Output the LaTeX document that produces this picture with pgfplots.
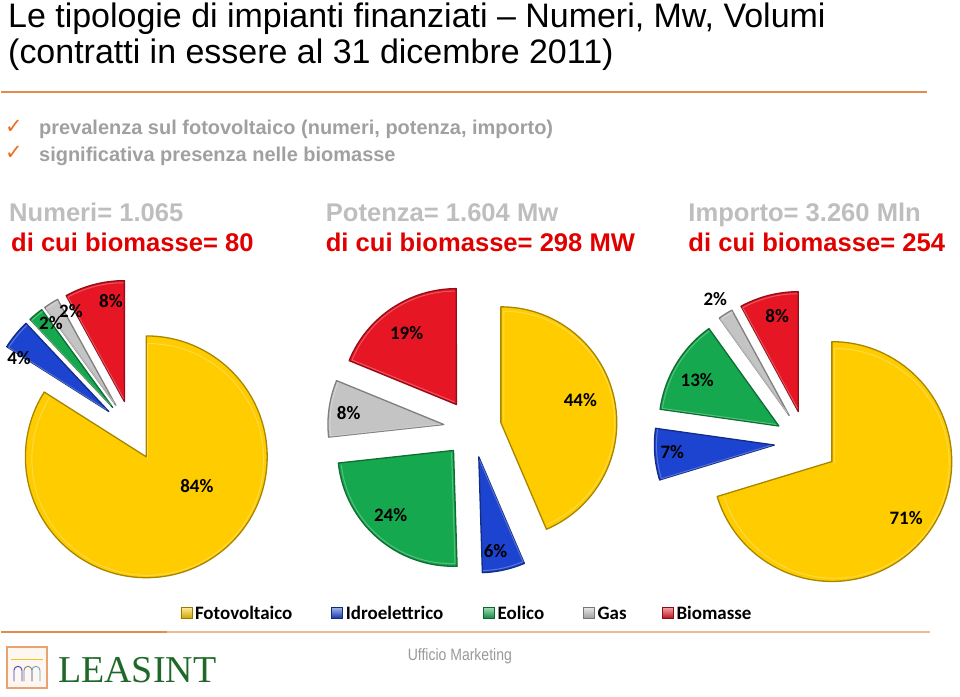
\documentclass[border=0pt]{standalone}
\usepackage{pgfplots}
\usepackage{pgfplotstable}
\pgfplotsset{compat=1.18}
\usepackage{fontspec}
\setmainfont{Liberation Sans}
\newfontfamily\narrowfont{Liberation Sans}[FakeStretch=0.85]
\newfontfamily\calfont{Carlito}
\newfontfamily\dejavu{DejaVu Sans}
\newfontfamily\seriffont{Liberation Serif}
\usetikzlibrary{calc}

\definecolor{cyl}{RGB}{255,204,0}
\definecolor{cbl}{RGB}{28,68,208}
\definecolor{cgr}{RGB}{22,168,78}
\definecolor{cgy}{RGB}{196,196,196}
\definecolor{crd}{RGB}{230,22,36}
\definecolor{corange}{RGB}{226,140,78}
\definecolor{ccheck}{RGB}{236,110,30}
\definecolor{cbullet}{RGB}{160,160,160}
\definecolor{csub}{RGB}{190,190,190}
\definecolor{csubred}{RGB}{225,0,0}
\definecolor{cgreenlogo}{RGB}{30,105,40}

% Numeri
\pgfplotstableread{
name value col
Fotovoltaico 84 cyl
Idroelettrico 4 cbl
Eolico 2 cgr
Gas 2 cgy
Biomasse 8 crd
}\pieA
% Potenza
\pgfplotstableread{
name value col
Fotovoltaico 44 cyl
Idroelettrico 6 cbl
Eolico 24 cgr
Gas 8 cgy
Biomasse 19 crd
}\pieB
% Importo
\pgfplotstableread{
name value col
Fotovoltaico 71 cyl
Idroelettrico 7 cbl
Eolico 13 cgr
Gas 2 cgy
Biomasse 8 crd
}\pieC

% #1 table, #2 cx, #3 cy (from top), #4 radius, #5 explode
\newcommand{\drawpie}[5]{%
  \pgfplotstablegetrowsof{#1}%
  \pgfmathtruncatemacro\nrows{\pgfplotsretval-1}%
  \xdef\psum{0}%
  \foreach \i in {0,...,\nrows}{%
    \pgfplotstablegetelem{\i}{value}\of{#1}%
    \pgfmathparse{\psum+\pgfplotsretval}\xdef\psum{\pgfmathresult}%
  }%
  \xdef\pcum{0}%
  \foreach \i in {0,...,\nrows}{%
    \pgfplotstablegetelem{\i}{value}\of{#1}%
    \pgfmathsetmacro\va{\pgfplotsretval/\psum*360}%
    \pgfmathsetmacro\sa{90-\pcum}%
    \pgfmathsetmacro\ea{90-\pcum-\va}%
    \pgfmathsetmacro\ma{90-\pcum-\va/2}%
    \pgfmathsetmacro\ax{#2+#5*cos(\ma)}%
    \pgfmathsetmacro\ay{697-#3+#5*sin(\ma)}%
    \pgfplotstablegetelem{\i}{col}\of{#1}%
    \edef\col{\pgfplotsretval}%
    \filldraw[fill=\col, draw=\col!65!black, line width=1.3pt, line join=round]
      (axis cs:\ax,\ay) -- ++(\sa:#4pt) arc[start angle=\sa, end angle=\ea, radius=#4pt] -- cycle;
    \pgfmathsetmacro\rr{#4-5}%
    \draw[\col!55!white, line width=1pt, line join=round, opacity=0.6]
      ($(axis cs:\ax,\ay)+(\ma:3pt)$) -- ++(\sa:\rr pt) arc[start angle=\sa, end angle=\ea, radius=\rr pt];
    \pgfmathparse{\pcum+\va}\xdef\pcum{\pgfmathresult}%
  }%
}
\newcommand{\lab}[3]{\node[font=\calfont\bfseries\fontsize{19}{19}\selectfont, text=black, inner sep=0pt] at (axis cs:#1,{697-#2}) {#3};}
\newcommand{\legitem}[3]{%
  \shade[top color=#2!40!white, bottom color=#2!80!black, draw=#2!60!black, line width=0.4pt]
    (axis cs:#1,{697-619}) rectangle (axis cs:{#1+11},{697-608});
  \node[anchor=base west, inner sep=0pt, font=\calfont\bfseries\fontsize{19}{19}\selectfont] at (axis cs:{#1+14},{697-620}) {#3};}
\newcommand{\arch}[2]{\draw[#2, line width=0.9pt] (axis cs:#1,{697-682}) -- (axis cs:#1,{697-671}) arc[start angle=180, end angle=0, radius=4pt] -- ++(0,-11pt);}

\begin{document}
\begin{tikzpicture}
\begin{axis}[x=1pt, y=1pt, xmin=0, xmax=960, ymin=0, ymax=697, hide axis, clip=false, scale only axis]
\addplot[draw=none] coordinates {(0,0) (960,697)};
\pgfplotsextra{%
  \drawpie{\pieA}{131}{431}{121}{30}
  \drawpie{\pieB}{472}{429}{116}{29}
  \drawpie{\pieC}{806}{443}{120}{32}
}
% title
\node[anchor=base west, inner sep=0pt, font=\fontsize{34}{34}\selectfont] at (axis cs:7,{697-28}) {Le tipologie di impianti finanziati -- Numeri, Mw, Volumi};
\node[anchor=base west, inner sep=0pt, font=\fontsize{34}{34}\selectfont] at (axis cs:7,{697-64}) {(contratti in essere al 31 dicembre 2011)};
\draw[corange, line width=2pt] (axis cs:0,{697-92}) -- (axis cs:927,{697-92});
% bullets
\node[anchor=base west, inner sep=0pt, text=ccheck, font=\dejavu\fontsize{21}{21}\selectfont] at (axis cs:4,{697-134}) {✓};
\node[anchor=base west, inner sep=0pt, text=ccheck, font=\dejavu\fontsize{21}{21}\selectfont] at (axis cs:4,{697-160}) {✓};
\node[anchor=base west, inner sep=0pt, text=cbullet, font=\bfseries\fontsize{20}{20}\selectfont] at (axis cs:38,{697-135}) {prevalenza sul fotovoltaico (numeri, potenza, importo)};
\node[anchor=base west, inner sep=0pt, text=cbullet, font=\bfseries\fontsize{20}{20}\selectfont] at (axis cs:38,{697-162}) {significativa presenza nelle biomasse};
% subtitles
\node[anchor=base west, inner sep=0pt, text=csub, font=\bfseries\fontsize{25.6}{26}\selectfont] at (axis cs:8,{697-222}) {Numeri= 1.065};
\node[anchor=base west, inner sep=0pt, text=csubred, font=\bfseries\fontsize{25.6}{26}\selectfont] at (axis cs:10,{697-252}) {di cui biomasse= 80};
\node[anchor=base west, inner sep=0pt, text=csub, font=\bfseries\fontsize{25.6}{26}\selectfont] at (axis cs:325,{697-222}) {Potenza= 1.604 Mw};
\node[anchor=base west, inner sep=0pt, text=csubred, font=\bfseries\fontsize{25.6}{26}\selectfont] at (axis cs:325,{697-252}) {di cui biomasse= 298 MW};
\node[anchor=base west, inner sep=0pt, text=csub, font=\bfseries\fontsize{25.6}{26}\selectfont] at (axis cs:688,{697-222}) {Importo= 3.260 Mln};
\node[anchor=base west, inner sep=0pt, text=csubred, font=\bfseries\fontsize{25.6}{26}\selectfont] at (axis cs:688,{697-252}) {di cui biomasse= 254};
% pie labels
\lab{196}{487}{84\%}
\lab{18}{358}{4\%}
\lab{50}{323}{2\%}
\lab{70}{311}{2\%}
\lab{110}{301}{8\%}
\lab{406}{333}{19\%}
\lab{348}{413}{8\%}
\lab{580}{400}{44\%}
\lab{390}{516}{24\%}
\lab{495}{552}{6\%}
\lab{715}{299}{2\%}
\lab{777}{316}{8\%}
\lab{697}{380}{13\%}
\lab{672}{453}{7\%}
\lab{906}{519}{71\%}
% legend
\legitem{180}{cyl}{Fotovoltaico}
\legitem{331}{cbl}{Idroelettrico}
\legitem{483}{cgr}{Eolico}
\legitem{583}{cgy}{Gas}
\legitem{662}{crd}{Biomasse}
% footer
\draw[corange, line width=2pt] (axis cs:0,{697-633}) -- (axis cs:166,{697-633});
\draw[corange!60!white, line width=2pt] (axis cs:166,{697-633}) -- (axis cs:930,{697-633});
\draw[corange!80!white, fill=corange!8!white, line width=2pt] (axis cs:6,{697-689}) rectangle (axis cs:46,{697-648});
\draw[corange!50!yellow, line width=0.8pt] (axis cs:10,{697-660}) -- (axis cs:42,{697-660});
\arch{13}{blue!50!gray}
\arch{23}{gray}
\arch{31}{cyan!40!gray}
\node[anchor=base west, inner sep=0pt, text=cgreenlogo, font=\seriffont\fontsize{38}{38}\selectfont] at (axis cs:57,{697-683}) {LEASINT};
\node[anchor=base west, inner sep=0pt, text=gray!80, font=\narrowfont\fontsize{16.5}{17}\selectfont] at (axis cs:407,{697-661}) {Ufficio Marketing};
\end{axis}
\end{tikzpicture}
\end{document}
